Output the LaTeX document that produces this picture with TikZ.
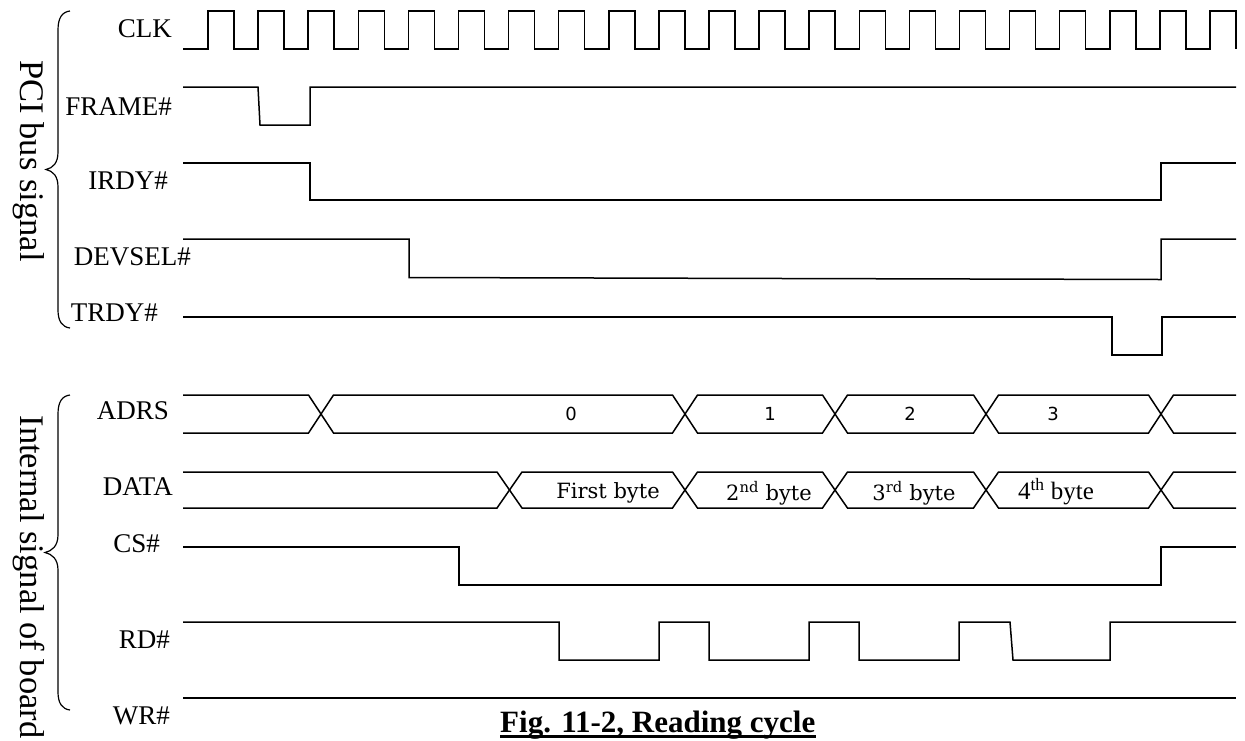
\documentclass[tikz,border=0pt]{standalone}
\usepackage{fontspec}
\setmainfont{Liberation Serif}
\newfontfamily\djserif{DejaVu Serif}
\newfontfamily\djsans{DejaVu Sans}
\newcommand\busseg[4]{% top, bottom, c1, c2
  \draw[sig] (#3,{(#1+#2)/2}) -- ({#3+12.5},#1) -- ({#4-12.5},#1) -- (#4,{(#1+#2)/2})
    -- ({#4-12.5},#2) -- ({#3+12.5},#2) -- cycle;}
\newcommand\busbegin[3]{% top, bottom, c
  \draw[sig] (183,#1) -- ({#3-12.5},#1) -- (#3,{(#1+#2)/2}) -- ({#3-12.5},#2) -- (183,#2);}
\newcommand\busfinish[3]{% top, bottom, c
  \draw[sig] (1236,#1) -- ({#3+12.5},#1) -- (#3,{(#1+#2)/2}) -- ({#3+12.5},#2) -- (1236,#2);}
\begin{document}
\begin{tikzpicture}[x=1pt,y=-1pt,
  sig/.style={line width=1.5pt, line join=miter},
  lbl/.style={font=\fontsize{27}{30}\selectfont, inner sep=0pt, anchor=east},
  rot/.style={font=\fontsize{34.5}{38}\selectfont, inner sep=0pt, rotate=-90},
  num/.style={font=\djsans\fontsize{18}{20}\selectfont, inner sep=0pt},
  dlbl/.style={font=\djserif\fontsize{21}{24}\selectfont, inner sep=0pt},
  tlbl/.style={font=\fontsize{25}{28}\selectfont, inner sep=0pt},
  bracestyle/.style={line width=1.2pt}]
\useasboundingbox (0,0) rectangle (1245,740);

% signal names
\node[lbl] (clk) at (172,29) {CLK};
\node[lbl] (frame) at (172,107) {FRAME\#};
\node[lbl] (irdy) at (168,181) {IRDY\#};
\node[lbl] (devsel) at (191,257) {DEVSEL\#};
\node[lbl] (trdy) at (158,313) {TRDY\#};
\node[lbl] (adrs) at (169,411) {ADRS};
\node[lbl] (data) at (173,487) {DATA};
\node[lbl] (cs) at (160,544) {CS\#};
\node[lbl] (rd) at (170,640) {RD\#};
\node[lbl] (wr) at (170,716) {WR\#};

% group labels
\node[rot] (pci) at (29,161) {PCI bus signal};
\node[rot] (intl) at (29,577) {Internal signal of board};

% braces
\draw[bracestyle] (70,11) .. controls (62,12) and (58,18) .. (58,30) -- (58,152)
  .. controls (58,163) and (53,168) .. (46,169.5)
  .. controls (53,171) and (58,176) .. (58,187) -- (58,310)
  .. controls (58,321) and (62,327) .. (70,328);
\draw[bracestyle] (70,395) .. controls (62,396) and (58,402) .. (58,414) -- (58,535)
  .. controls (58,546) and (52,551) .. (45,552.5)
  .. controls (52,554) and (58,559) .. (58,570) -- (58,692)
  .. controls (58,703) and (62,709) .. (70,710);

% CLK
\draw[sig] (183,49) foreach \i in {0,...,20} {
  -- ({208+50.1*\i},49) -- ({208+50.1*\i},11) -- ({234+50.1*\i},11) -- ({234+50.1*\i},49) };
% FRAME#
\draw[sig] (183,87) -- (258,87) -- (260,125) -- (310,125) -- (310,87) -- (1236,87);
% IRDY#
\draw[sig] (183,163) -- (310,163) -- (310,200) -- (1161,200) -- (1161,163) -- (1236,163);
% DEVSEL#
\draw[sig] (183,239) -- (409,239) -- (409,277.5) -- (1161,279.5) -- (1161,239) -- (1236,239);
% TRDY#
\draw[sig] (183,317) -- (1112,317) -- (1112,355) -- (1162,355) -- (1162,317) -- (1236,317);

% ADRS bus
\busbegin{395}{433}{321}
\busseg{395}{433}{321}{685}
\busseg{395}{433}{685}{835}
\busseg{395}{433}{835}{986}
\busseg{395}{433}{986}{1161}
\busfinish{395}{433}{1161}
\node[num] (a0) at (571,414) {0};
\node[num] (a1) at (770,414) {1};
\node[num] (a2) at (910,414) {2};
\node[num] (a3) at (1053,414) {3};

% DATA bus
\busbegin{472}{508}{509.5}
\busseg{472}{508}{509.5}{685}
\busseg{472}{508}{685}{835}
\busseg{472}{508}{835}{986}
\busseg{472}{508}{986}{1161}
\busfinish{472}{508}{1161}
\node[dlbl] (d1) at (608,493) {First byte};
\node[dlbl] (d2) at (769,493) {2\textsuperscript{nd} byte};
\node[dlbl] (d3) at (914,493) {3\textsuperscript{rd} byte};
\node[tlbl] (d4) at (1056,492) {4\textsuperscript{th} byte};

% CS#
\draw[sig] (183,547) -- (459,547) -- (459,585) -- (1161,585) -- (1161,547) -- (1236,547);
% RD#
\draw[sig] (183,622) -- (559,622) -- (559,660) -- (659,660) -- (659,622) -- (709,622)
  -- (709,660) -- (809,660) -- (809,622) -- (859,622) -- (859,660) -- (959,660)
  -- (959,622) -- (1010,622) -- (1013,660) -- (1110,660) -- (1110,622) -- (1236,622);
% WR#
\draw[sig] (183,698) -- (1236,698);

% caption
\node[anchor=base west, inner sep=0pt, font=\bfseries\fontsize{31}{34}\selectfont] (cap)
  at (500,732) {Fig. 11-2, Reading cycle};
\draw[line width=2.5pt] ([yshift=-4.5pt]cap.base west) -- ([yshift=-4.5pt]cap.base east);
\end{tikzpicture}
\end{document}
